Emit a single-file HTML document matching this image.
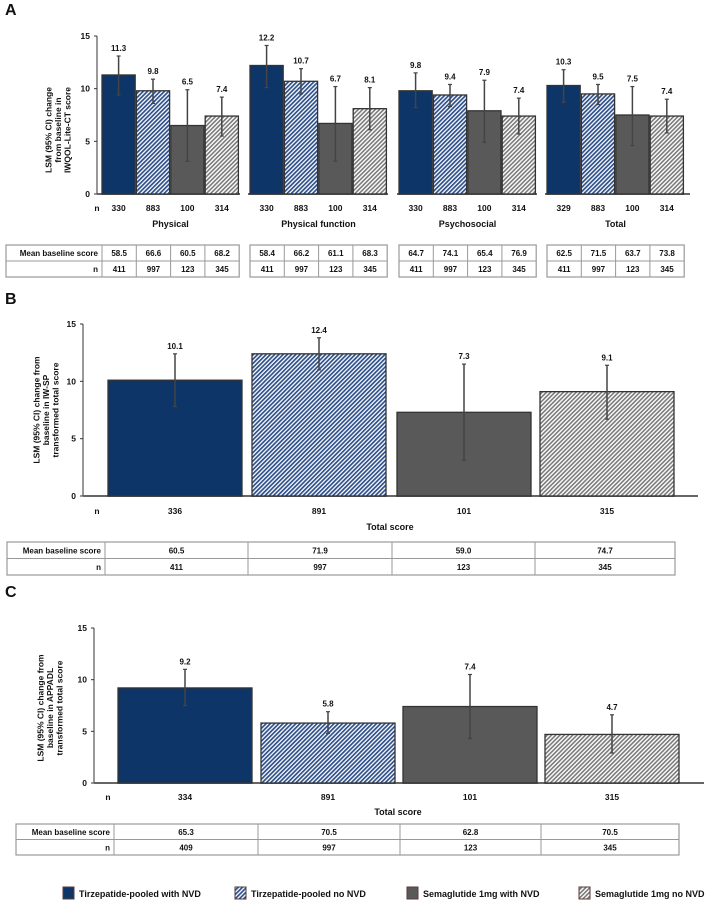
<!DOCTYPE html>
<html><head><meta charset="utf-8"><style>
html,body{margin:0;padding:0;background:#fff;}
svg{display:block;font-family:"Liberation Sans",Arial,sans-serif;font-weight:bold;}
</style></head><body>
<svg id="fig" width="708" height="902" viewBox="0 0 708 902" xmlns="http://www.w3.org/2000/svg">
<defs>
<pattern id="hBlue" patternUnits="userSpaceOnUse" width="3" height="3" patternTransform="rotate(45)"><rect width="3" height="3" fill="#fff"/><rect width="1.7" height="3" fill="#2d4f8a"/></pattern>
<pattern id="hGray" patternUnits="userSpaceOnUse" width="3" height="3" patternTransform="rotate(45)"><rect width="3" height="3" fill="#fff"/><rect width="1.6" height="3" fill="#7a7a7a"/></pattern>
</defs>
<g id="root"></g>
</svg>
<script>
const seriesNames=["Tirzepatide-pooled with NVD","Tirzepatide-pooled no NVD","Semaglutide 1mg with NVD","Semaglutide 1mg no NVD"];
const aCategories=["Physical","Physical function","Psychosocial","Total"];
const aValues=[[11.3,9.8,6.5,7.4],[12.2,10.7,6.7,8.1],[9.8,9.4,7.9,7.4],[10.3,9.5,7.5,7.4]];
const aLow=[[9.4,8.6,3.1,5.5],[10.1,9.5,3.1,6.1],[8.2,8.3,4.9,5.7],[8.7,8.5,4.6,5.8]];
const aHigh=[[13.1,10.9,9.9,9.2],[14.1,11.9,10.2,10.1],[11.5,10.4,10.8,9.1],[11.8,10.4,10.2,9.0]];
const aN=[[330,883,100,314],[330,883,100,314],[330,883,100,314],[329,883,100,314]];
const aBase=[["58.5","66.6","60.5","68.2"],["58.4","66.2","61.1","68.3"],["64.7","74.1","65.4","76.9"],["62.5","71.5","63.7","73.8"]];
const aBaseN=[[411,997,123,345],[411,997,123,345],[411,997,123,345],[411,997,123,345]];
const bValues=[10.1,12.4,7.3,9.1];
const bLow=[7.8,11.0,3.1,6.7];
const bHigh=[12.4,13.8,11.5,11.4];
const bN=[336,891,101,315];
const bBase=["60.5","71.9","59.0","74.7"];
const bBaseN=[411,997,123,345];
const cValues=[9.2,5.8,7.4,4.7];
const cLow=[7.5,4.8,4.3,2.9];
const cHigh=[11.0,6.9,10.5,6.6];
const cN=[334,891,101,315];
const cBase=["65.3","70.5","62.8","70.5"];
const cBaseN=[409,997,123,345];
const yTicks=[0,5,10,15];

const NS="http://www.w3.org/2000/svg";
const root=document.getElementById('root');
const fills=["#0d3568","url(#hBlue)","#595959","url(#hGray)"];
function mk(tag,attrs,parent,text){const e=document.createElementNS(NS,tag);for(const k in attrs)e.setAttribute(k,attrs[k]);if(text!==undefined)e.textContent=text;(parent||root).appendChild(e);return e;}
function txt(x,y,s,size,anchor,parent){return mk('text',{x:x,y:y,'font-size':size,'text-anchor':anchor||'middle',fill:'#111'},parent,s);}

function axis(g,x,y0,y15,xEnd,segments){
  const sc=v=>y0-(y0-y15)*v/15;
  mk('line',{x1:x,y1:y15,x2:x,y2:y0,stroke:'#333','stroke-width':1},g);
  yTicks.forEach(t=>{const yy=sc(t);mk('line',{x1:x-3,y1:yy,x2:x,y2:yy,stroke:'#333','stroke-width':1},g);
    const l=txt(x-7,yy+3,String(t),8.5,'end',g);
    
    });
  segments.forEach(s=>mk('line',{x1:s[0],y1:y0,x2:s[1],y2:y0,stroke:'#666','stroke-width':2},g));
  return sc;
}
function bar(g,x,w,v,lo,hi,sc,i,y0,labelSize){
  const r=mk('rect',{x:x,y:sc(v),width:w,height:y0-sc(v),fill:fills[i],stroke:'#333','stroke-width':1.3},g);
  
  
  const cx=x+w/2;
  const e=mk('g',{},g);
  
  
  mk('line',{x1:cx,y1:sc(lo),x2:cx,y2:sc(hi),stroke:'#444','stroke-width':1.5},e);
  mk('line',{x1:cx-2,y1:sc(lo),x2:cx+2,y2:sc(lo),stroke:'#444','stroke-width':1.2},e);
  mk('line',{x1:cx-2,y1:sc(hi),x2:cx+2,y2:sc(hi),stroke:'#444','stroke-width':1.2},e);
  const t=txt(cx,sc(hi)-5,v.toFixed(1),labelSize,'middle',g);
  
  
}
function table(g,x0,labelRight,cols,yTop,rowH,r1,r2,size,withLabel){
  const right=cols[cols.length-1];
  mk('rect',{x:x0,y:yTop,width:right-x0,height:rowH*2,fill:'#fff',stroke:'#999','stroke-width':1.2},g);
  mk('line',{x1:x0,y1:yTop+rowH,x2:right,y2:yTop+rowH,stroke:'#999','stroke-width':1},g);
  if(withLabel)mk('line',{x1:labelRight,y1:yTop,x2:labelRight,y2:yTop+2*rowH,stroke:'#999','stroke-width':1},g);
  for(let i=0;i<cols.length-1;i++)mk('line',{x1:cols[i],y1:yTop,x2:cols[i],y2:yTop+2*rowH,stroke:'#999','stroke-width':1},g);
  if(withLabel){txt(labelRight-4,yTop+rowH/2+3,'Mean baseline score',size,'end',g);txt(labelRight-4,yTop+rowH*1.5+3,'n',size,'end',g);}
  const starts=withLabel?[labelRight].concat(cols.slice(0,-1)):[x0].concat(cols.slice(0,-1));
  for(let i=0;i<4;i++){const cx=(starts[i]+cols[i])/2;
    txt(cx,yTop+rowH/2+3,String(r1[i]),size,'middle',g);
    txt(cx,yTop+rowH*1.5+3,String(r2[i]),size,'middle',g);}
}
function ytitle(g,cx,cy,lines,size){
  const t=mk('text',{transform:`translate(${cx},${cy}) rotate(-90)`,'font-size':size,'text-anchor':'middle',fill:'#111'},g);
  lines.forEach((l,i)=>mk('tspan',{x:0,dy:i===0?-(lines.length-1)*size*0.55:size*1.1},t,l));
  
  
}

/* Panel A */
const gA=mk('g',{});


txt(5,15,'A',16,'start',gA);
const groupX=[102,250,399,547], bw=33.2;
const scA=axis(gA,97,194,36,690,[[97,240],[248,388],[397,537],[545,690]]);
ytitle(gA,61,130,['LSM (95% CI) change','from baseline in','IWQOL-Lite-CT score'],8.5);
txt(97,211,'n',8.5,'middle',gA);
aCategories.forEach((c,gi)=>{
  for(let i=0;i<4;i++){const x=groupX[gi]+i*34.4;
    bar(gA,x,bw,aValues[gi][i],aLow[gi][i],aHigh[gi][i],scA,i,194,8);
    txt(x+bw/2,211,String(aN[gi][i]),8.5,'middle',gA);}
  const l=txt(groupX[gi]+68.5,227,c,9,'middle',gA);
  
  
  const cols=[0,1,2,3].map(i=>groupX[gi]+(i+1)*34.3);
  table(gA,gi===0?6:groupX[gi],groupX[gi],cols,245,16,aBase[gi],aBaseN[gi],8,gi===0);
});

/* Panel B */
const gB=mk('g',{});


txt(5,304,'B',16,'start',gB);
const bX=[108,252,397,540], bW=134;
const scB=axis(gB,83,496,324,698,[[83,698]]);
ytitle(gB,49,410,['LSM (95% CI) change from','baseline in IW-SP','transformed total score'],8.5);
txt(97,514,'n',8.5,'middle',gB);
for(let i=0;i<4;i++){bar(gB,bX[i],bW,bValues[i],bLow[i],bHigh[i],scB,i,496,8);txt(bX[i]+bW/2,514,String(bN[i]),8.5,'middle',gB);}
txt(390,530,'Total score',9,'middle',gB);
table(gB,7,105,[248,392,535,675],542,16.5,bBase,bBaseN,8,true);

/* Panel C */
const gC=mk('g',{});


txt(5,597,'C',16,'start',gC);
const cX=[118,261,403,545], cW=134;
const scC=axis(gC,94,783,628,704,[[94,704]]);
ytitle(gC,53,708,['LSM (95% CI) change from','baseline in APPADL','transformed total score'],8.5);
txt(108,800,'n',8.5,'middle',gC);
for(let i=0;i<4;i++){bar(gC,cX[i],cW,cValues[i],cLow[i],cHigh[i],scC,i,783,8);txt(cX[i]+cW/2,800,String(cN[i]),8.5,'middle',gC);}
txt(398,815,'Total score',9,'middle',gC);
table(gC,16,114,[258,400,541,679],824,15.5,cBase,cBaseN,8,true);

/* Legend */
const gL=mk('g',{});


const legX=[63,235,407,579];
seriesNames.forEach((s,i)=>{
  const e=mk('g',{},gL);
  
  
  mk('rect',{x:legX[i],y:887,width:11,height:12,fill:fills[i],stroke:'#5a3a3a','stroke-width':1},e);
  txt(legX[i]+16,897,s,9,'start',e);
});
</script>
</body></html>
